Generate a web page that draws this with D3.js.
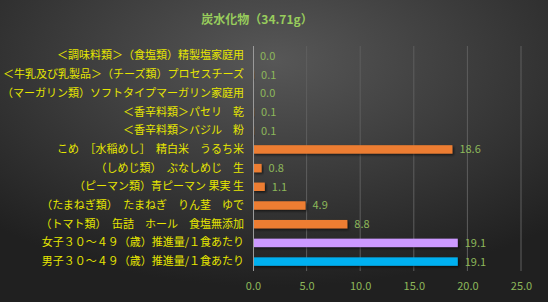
<!DOCTYPE html>
<html><head><meta charset="utf-8">
<script src="https://cdn.jsdelivr.net/npm/d3@7/dist/d3.min.js"></script>
<style>
html,body{margin:0;padding:0;background:#2a2a2a;}
svg{display:block;}
text{font-family:"Noto Sans CJK JP","Noto Sans",sans-serif;}
</style></head>
<body>
<svg id="chart" width="548" height="302"></svg>
<script>
const title = "炭水化物（34.71g）";
const categories = [
  "＜調味料類＞（食塩類）精製塩家庭用",
  "＜牛乳及び乳製品＞（チーズ類）プロセスチーズ",
  "（マーガリン類）ソフトタイプマーガリン家庭用",
  "＜香辛料類＞パセリ　乾",
  "＜香辛料類＞バジル　粉",
  "こめ　［水稲めし］　精白米　うるち米",
  "（しめじ類）　ぶなしめじ　生",
  "（ピーマン類）青ピーマン 果実 生",
  "（たまねぎ類）　たまねぎ　りん茎　ゆで",
  "（トマト類）　缶詰　ホール　食塩無添加",
  "女子３０～４９（歳）推進量/１食あたり",
  "男子３０～４９（歳）推進量/１食あたり"
];
const values = [0.0, 0.1, 0.0, 0.1, 0.1, 18.6, 0.8, 1.1, 4.9, 8.8, 19.1, 19.1];
const barColors = ["#ED7D31","#ED7D31","#ED7D31","#ED7D31","#ED7D31","#ED7D31","#ED7D31","#ED7D31","#ED7D31","#ED7D31","#CC99FF","#00B0F0"];
const xTicks = [0, 5, 10, 15, 20, 25];

const svg = d3.select("#chart");
const W = 548, H = 302;
const defs = svg.append("defs");
const rg = defs.append("radialGradient").attr("id","bg")
  .attr("cx","50%").attr("cy","20%").attr("r","75%");
rg.append("stop").attr("offset","0%").attr("stop-color","#575757");
rg.append("stop").attr("offset","100%").attr("stop-color","#202020");
const f = defs.append("filter").attr("id","shadow").attr("x","-10%").attr("y","-50%").attr("width","130%").attr("height","250%");
f.append("feDropShadow").attr("dx",1.5).attr("dy",1.5).attr("stdDeviation",0.8)
  .attr("flood-color","#000").attr("flood-opacity",0.6);

svg.append("rect").attr("width",W).attr("height",H).attr("fill","url(#bg)");

const x = d3.scaleLinear().domain([0,25]).range([253, 521]);
const y = d3.scaleBand().domain(categories).range([46.5, 271]).paddingInner(0.55).paddingOuter(0.28);

svg.append("text").attr("x",257).attr("y",24).attr("text-anchor","middle")
  .attr("fill","#98CC5C").attr("font-size",12).attr("font-weight","bold").text(title);

// gridlines
svg.append("g").selectAll("line").data(xTicks.slice(1)).join("line")
  .attr("x1",d=>x(d)).attr("x2",d=>x(d)).attr("y1",46).attr("y2",271)
  .attr("stroke","#5e5e5e").attr("stroke-width",1);

// bars
svg.append("g").selectAll("rect").data(values).join("rect")
  .attr("x",x(0)).attr("y",(d,i)=>y(categories[i]))
  .attr("width",d=>x(d)-x(0)).attr("height",y.bandwidth())
  .attr("fill",(d,i)=>barColors[i]).attr("filter","url(#shadow)");

// axis line
svg.append("line").attr("x1",x(0)+0.5).attr("x2",x(0)+0.5).attr("y1",46).attr("y2",271)
  .attr("stroke","#9a9a9a").attr("stroke-width",1);

// value labels
svg.append("g").selectAll("text").data(values).join("text")
  .attr("x",d=>x(d)+7).attr("y",(d,i)=>y(categories[i])+y.bandwidth()/2)
  .attr("dy","0.36em").attr("fill","#8DB85A").attr("font-size",11)
  .text(d=>d.toFixed(1));

// category labels
const yAxis = d3.axisLeft(y).tickSize(0).tickPadding(9);
const gy = svg.append("g").attr("transform",`translate(${x(0)},0)`).call(yAxis);
gy.select(".domain").remove();
gy.selectAll("text").attr("fill","#E6E600").attr("font-size",11);

// x axis tick labels
const xAxis = d3.axisBottom(x).tickValues(xTicks).tickSize(0).tickPadding(10).tickFormat(d=>d.toFixed(1));
const gx = svg.append("g").attr("transform","translate(0,272)").call(xAxis);
gx.select(".domain").remove();
gx.selectAll("text").attr("fill","#8DB85A").attr("font-size",11);
</script>
</body></html>
